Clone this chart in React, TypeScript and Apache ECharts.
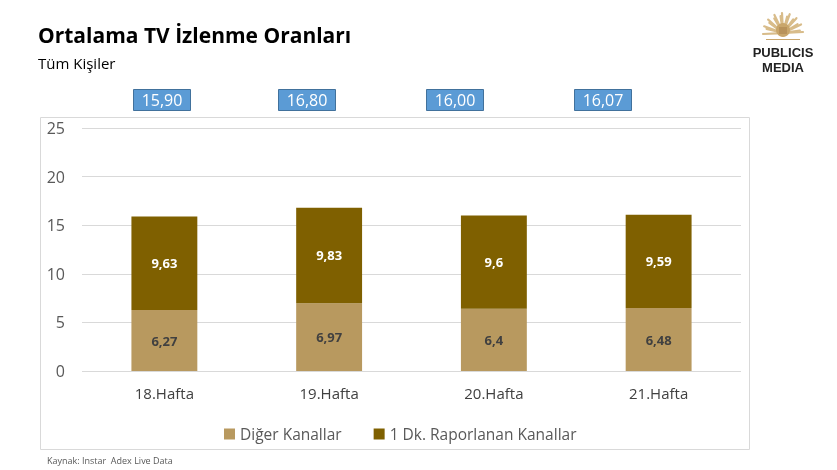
import React, { useEffect, useRef } from "react";
import * as echarts from "echarts";

const categories = ["18.Hafta", "19.Hafta", "20.Hafta", "21.Hafta"];
const digerKanallar = [6.27, 6.97, 6.4, 6.48];
const raporlananKanallar = [9.63, 9.83, 9.6, 9.59];
const totals = ["15,90", "16,80", "16,00", "16,07"];
const yTicks = [0, 5, 10, 15, 20, 25];

const FONT = "'Open Sans', 'Noto Sans', sans-serif";
const fmt = (v: number) => String(v).replace(".", ",");

export default function App() {
  const ref = useRef<HTMLDivElement>(null);
  useEffect(() => {
    if (!ref.current) return;
    const chart = echarts.init(ref.current, null, { renderer: "svg" });
    const boxX = [133, 278, 426, 574];

    const rays: any[] = [];
    for (let k = 0; k <= 16; k++) {
      const a = Math.PI * (1.0 + k / 16) + (k % 2 ? 0.05 : -0.05);
      const r1 = 6;
      const r2 = k % 2 ? 17 : 20;
      rays.push({
        type: "line",
        shape: { x1: Math.cos(a) * r1, y1: Math.sin(a) * r1, x2: Math.cos(a) * r2, y2: Math.sin(a) * r2 },
        style: { stroke: "#D8BC8A", lineWidth: 2.2, lineCap: "round" },
      });
    }

    const graphics: any[] = [
      {
        type: "rect",
        shape: { x: 40.5, y: 117.5, width: 709, height: 332 },
        style: { fill: "none", stroke: "#D9D9D9", lineWidth: 1 },
        silent: true,
      },
      {
        type: "text",
        left: 38,
        top: 24,
        style: { text: "Ortalama TV İzlenme Oranları", font: `bold 21px ${FONT}`, fill: "#000" },
      },
      {
        type: "text",
        left: 38,
        top: 55,
        style: { text: "Tüm Kişiler", font: `15px ${FONT}`, fill: "#000" },
      },
      {
        type: "text",
        left: 47,
        top: 456,
        style: { text: "Kaynak: Instar  Adex Live Data", font: `9px ${FONT}`, fill: "#595959" },
      },
      {
        type: "group",
        x: 783,
        y: 33,
        children: [
          ...rays,
          { type: "circle", shape: { cx: 0, cy: -3, r: 7 }, style: { fill: "#C9A66B" } },
          { type: "rect", shape: { x: -4, y: -6, width: 8, height: 7 }, style: { fill: "#B8925A" } },
          { type: "line", shape: { x1: -17, y1: 6.5, x2: 17, y2: 6.5 }, style: { stroke: "#C9A66B", lineWidth: 1.2 } },
        ],
      },
      {
        type: "text",
        x: 783,
        y: 46,
        style: { text: "PUBLICIS", font: `bold 13px Arial, sans-serif`, fill: "#222", align: "center" },
      },
      {
        type: "text",
        x: 783,
        y: 61,
        style: { text: "MEDIA", font: `bold 13px Arial, sans-serif`, fill: "#222", align: "center" },
      },
    ];
    totals.forEach((t, i) => {
      graphics.push({
        type: "group",
        x: boxX[i],
        y: 89,
        children: [
          { type: "rect", shape: { x: 0.5, y: 0.5, width: 57, height: 21 }, style: { fill: "#5B9BD5", stroke: "#41719C", lineWidth: 1 } },
          { type: "text", x: 29, y: 11, style: { text: t, font: `16px ${FONT}`, fill: "#fff", align: "center", verticalAlign: "middle" } },
        ],
      });
    });

    chart.setOption({
      animation: false,
      grid: { left: 82, right: 96, top: 128, bottom: 99, containLabel: false },
      legend: {
        left: 219,
        top: 421,
        itemWidth: 11,
        itemHeight: 11,
        itemGap: 32,
        icon: "rect",
        textStyle: { fontFamily: FONT, fontSize: 15.5, color: "#595959" },
        data: ["Diğer Kanallar", "1 Dk. Raporlanan Kanallar"],
      },
      xAxis: {
        type: "category",
        data: categories,
        axisLine: { show: false },
        axisTick: { show: false },
        axisLabel: { fontFamily: FONT, fontSize: 15, color: "#404040", margin: 14 },
      },
      yAxis: {
        type: "value",
        min: yTicks[0],
        max: yTicks[yTicks.length - 1],
        interval: 5,
        axisLine: { show: false },
        axisTick: { show: false },
        axisLabel: { fontFamily: FONT, fontSize: 16, color: "#595959", margin: 17 },
        splitLine: { lineStyle: { color: "#D9D9D9", width: 1 } },
      },
      series: [
        {
          name: "Diğer Kanallar",
          type: "bar",
          stack: "t",
          data: digerKanallar,
          barWidth: "40%",
          itemStyle: { color: "#B8995F" },
          label: {
            show: true,
            position: "inside",
            formatter: (p: any) => fmt(p.value),
            fontFamily: FONT,
            fontSize: 13,
            fontWeight: "bold",
            color: "#404040",
          },
        },
        {
          name: "1 Dk. Raporlanan Kanallar",
          type: "bar",
          stack: "t",
          data: raporlananKanallar,
          barWidth: "40%",
          itemStyle: { color: "#7F6000" },
          label: {
            show: true,
            position: "inside",
            formatter: (p: any) => fmt(p.value),
            fontFamily: FONT,
            fontSize: 13,
            fontWeight: "bold",
            color: "#fff",
          },
        },
      ],
      graphic: graphics,
    });
    return () => chart.dispose();
  }, []);
  return <div ref={ref} style={{ position: "fixed", left: 0, top: 0, width: 837, height: 470 }} />;
}
